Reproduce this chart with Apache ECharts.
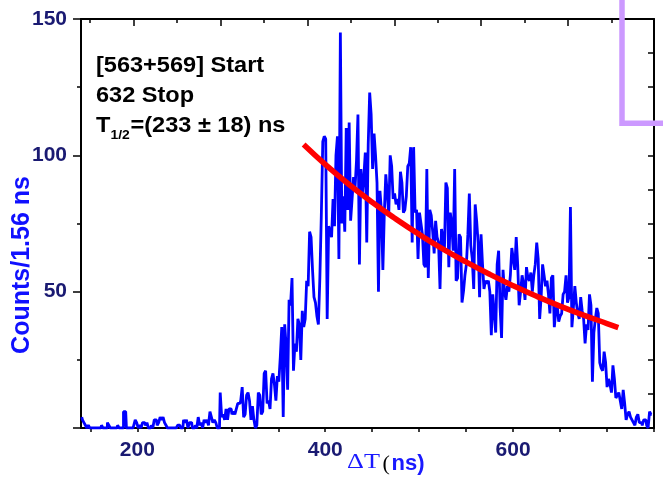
<!DOCTYPE html>
<html><head><meta charset="utf-8">
<script src="https://cdn.jsdelivr.net/npm/echarts@6/dist/echarts.min.js"></script>
<style>html,body{margin:0;padding:0;background:#fff}#c{width:663px;height:483px}</style>
</head><body><div id="c"></div>
<script>
// ---- data ----
const binStart = 140;      // ns, left edge of first bin
const binWidth = 1.56;     // ns per bin
const counts = [
  4,3,2,1,0,1,0,0,0,0,
  0,0,0,0,1,0,0,0,2,1,
  0,0,0,0,0,1,0,0,0,6,
  6,0,0,0,0,0,1,3,2,0,
  1,0,2,2,1,2,0,0,1,0,
  3,3,1,2,4,3,4,2,1,0,
  0,0,0,0,0,0,1,1,0,0,
  3,2,3,0,2,2,0,0,1,0,
  4,1,2,0,3,2,3,1,6,4,
  2,3,2,0,0,13,4,5,3,7,
  3,7,7,5,6,5,7,9,9,10,
  15,4,5,12,13,10,3,8,3,0,
  1,13,12,5,6,20,21,9,10,7,
  18,20,16,10,19,17,26,37,4,38,
  30,14,47,45,55,21,31,28,40,38,
  25,43,37,40,54,52,72,70,58,48,
  46,41,38,55,78,105,107,106,40,74,
  72,70,84,74,100,107,62,145,75,85,
  72,110,80,112,76,84,92,88,98,115,
  60,95,86,92,101,68,104,123,115,95,
  108,100,90,50,87,80,58,79,93,86,
  78,100,96,84,86,82,84,80,94,90,
  79,80,85,96,97,103,68,103,79,80,
  62,79,75,71,60,59,95,55,80,78,
  72,64,76,70,68,51,73,70,65,90,
  88,59,79,75,65,95,54,55,71,70,
  46,50,56,60,71,86,67,62,51,82,
  76,68,48,71,60,51,54,53,54,50,
  34,49,42,35,60,65,44,33,58,50,
  47,52,50,56,66,62,58,70,60,45,
  50,56,53,47,59,55,54,57,50,56,
  60,68,62,40,48,60,56,52,54,49,
  42,55,56,37,43,45,39,41,42,49,
  50,56,46,48,81,37,44,52,46,42,
  40,48,43,40,31,38,36,49,45,17,
  35,40,44,42,24,22,21,28,24,15,
  18,16,13,23,18,11,12,13,10,7,
  14,9,3,5,6,4,3,2,1,4,
  5,2,2,1,3,3,1,0,6,5
];
const fitX = [377,400,425,450,475,500,525,550,575,600,625,650,675,700,712];
const fitY = [104,96.7,89.4,82.8,76.7,71.0,65.7,60.9,56.4,52.2,48.3,44.7,41.4,38.3,36.8];

const xMin = 140, xMax = 750;
const xLabelValues = [200,400,600];
const xTickValues = [150,200,250,300,350,400,450,500,550,600,650,700,750];
const yMin = 0, yMax = 150;
const yLabelValues = [50,100,150];
const topMajorTicks = [195.9,288.4,381.0,473.5,566.0,658.6];
const topMinorTicks = [149.6,242.1,334.7,427.2,519.8,612.3,704.8];

const histData = counts.map((c,i)=>[binStart + binWidth*(i+0.5), c]);
const fitData = fitX.map((x,i)=>[x, fitY[i]]);

const SANS = '"Liberation Sans", Arial, sans-serif';
const SERIF = '"Liberation Serif", "Times New Roman", serif';
const NAVY = '#1a1a72';

const chart = echarts.init(document.getElementById('c'), null, {renderer:'canvas'});
chart.setOption({
  animation:false,
  backgroundColor:'#fff',
  grid:{left:81, right:9, top:19, bottom:55},
  xAxis:[
    {type:'value', min:xMin, max:xMax, position:'bottom',
     axisLine:{show:true, onZero:false, lineStyle:{color:'#000', width:2}},
     axisTick:{show:true, customValues:xTickValues, length:4, lineStyle:{color:'#000', width:1.5}},
     axisLabel:{customValues:xLabelValues, fontSize:21, fontWeight:'bold', fontFamily:SANS, color:NAVY, margin:12},
     splitLine:{show:false}},
    {type:'value', min:xMin, max:xMax, position:'top',
     axisLine:{show:true, onZero:false, lineStyle:{color:'#000', width:2}},
     axisTick:{show:true, inside:true, customValues:topMajorTicks, length:7, lineStyle:{color:'#000', width:1.5}},
     axisLabel:{show:false}, splitLine:{show:false}},
    {type:'value', min:xMin, max:xMax, position:'top',
     axisLine:{show:false, onZero:false},
     axisTick:{show:true, inside:true, customValues:topMinorTicks, length:4, lineStyle:{color:'#000', width:1.5}},
     axisLabel:{show:false}, splitLine:{show:false}}
  ],
  yAxis:[
    {type:'value', min:yMin, max:yMax, interval:50, position:'left',
     axisLine:{show:true, onZero:false, lineStyle:{color:'#000', width:2}},
     axisTick:{show:true, length:8, lineStyle:{color:'#000', width:1.5}},
     minorTick:{show:true, splitNumber:2, length:4, lineStyle:{color:'#000', width:1.5}},
     axisLabel:{customValues:yLabelValues, fontSize:21, fontWeight:'bold', fontFamily:SANS, color:NAVY, margin:14},
     splitLine:{show:false}, minorSplitLine:{show:false}},
    {type:'value', min:yMin, max:yMax, interval:12.5, position:'right',
     axisLine:{show:true, onZero:false, lineStyle:{color:'#000', width:2}},
     axisTick:{show:true, inside:true, length:6, lineStyle:{color:'#000', width:1.5}},
     axisLabel:{show:false}, splitLine:{show:false}}
  ],
  series:[
    {type:'line', xAxisIndex:0, yAxisIndex:0, data:histData, step:'middle', showSymbol:false, symbol:'none',
     lineStyle:{color:'#0000ff', width:2.8}, z:3},
    {type:'line', xAxisIndex:0, yAxisIndex:0, data:fitData, smooth:true, showSymbol:false, symbol:'none',
     lineStyle:{color:'#ff0000', width:5.5, cap:'butt'}, z:4}
  ],
  graphic:[
    {type:'text', x:96, y:65.5, scaleX:1.07, z:100,
     style:{text:'[563+569] Start', font:'bold 22px '+SANS, fill:'#000', align:'left', verticalAlign:'middle'}},
    {type:'text', x:96, y:95.7, scaleX:1.07, z:100,
     style:{text:'632 Stop', font:'bold 22px '+SANS, fill:'#000', align:'left', verticalAlign:'middle'}},
    {type:'text', x:96, y:126.2, scaleX:1.07, z:100,
     style:{text:'T', font:'bold 22px '+SANS, fill:'#000', align:'left', verticalAlign:'middle'}},
    {type:'text', x:110.5, y:135, scaleX:1.07, z:100,
     style:{text:'1/2', font:'bold 13px '+SANS, fill:'#000', align:'left', verticalAlign:'middle'}},
    {type:'text', x:130.5, y:126.2, scaleX:1.07, z:100,
     style:{text:'=(233 \u00b1 18) ns', font:'bold 22px '+SANS, fill:'#000', align:'left', verticalAlign:'middle'}},
    {type:'text', x:22.5, y:265, rotation:Math.PI/2, z:100,
     style:{text:'Counts/1.56 ns', font:'bold 25px '+SANS, fill:'#1010ff', align:'center', verticalAlign:'middle'}},
    {type:'text', x:347, y:462.5, scaleX:1.25, z:100,
     style:{text:'\u0394T', font:'21px '+SERIF, fill:'#1a1aff', align:'left', verticalAlign:'middle'}},
    {type:'text', x:382.5, y:464, z:100,
     style:{text:'(', font:'22px '+SERIF, fill:'#000', align:'left', verticalAlign:'middle'}},
    {type:'text', x:391.5, y:464, z:100,
     style:{text:'ns)', font:'bold 22px '+SANS, fill:'#1a1aff', align:'left', verticalAlign:'middle'}},
    {type:'polyline', z:100,
     shape:{points:[[622,-5],[622,123.3],[670,123.3]]},
     style:{stroke:'#cc99ff', lineWidth:5.5, fill:null}}
  ]
});
</script></body></html>
